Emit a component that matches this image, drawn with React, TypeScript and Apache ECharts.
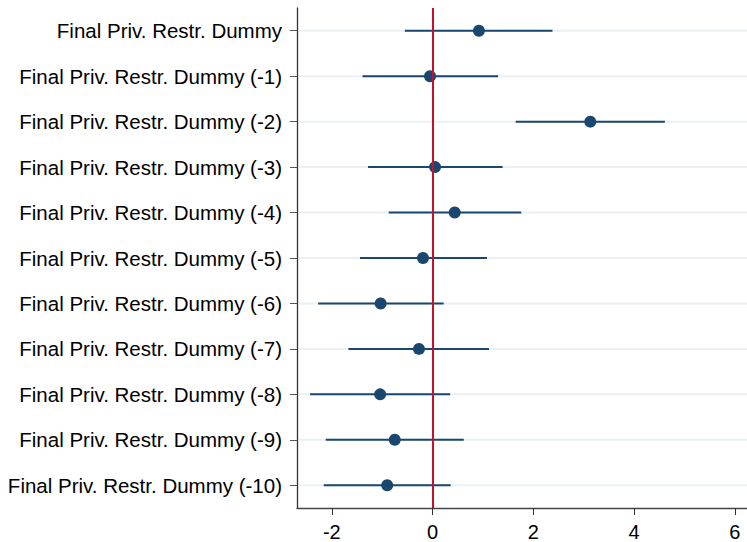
import React, { useEffect, useRef } from "react";
import * as echarts from "echarts";

const categories = [
  "Final Priv. Restr. Dummy",
  "Final Priv. Restr. Dummy (-1)",
  "Final Priv. Restr. Dummy (-2)",
  "Final Priv. Restr. Dummy (-3)",
  "Final Priv. Restr. Dummy (-4)",
  "Final Priv. Restr. Dummy (-5)",
  "Final Priv. Restr. Dummy (-6)",
  "Final Priv. Restr. Dummy (-7)",
  "Final Priv. Restr. Dummy (-8)",
  "Final Priv. Restr. Dummy (-9)",
  "Final Priv. Restr. Dummy (-10)",
];
const estimates = [0.92, -0.05, 3.13, 0.05, 0.44, -0.19, -1.03, -0.27, -1.04, -0.75, -0.9];
const lower = [-0.55, -1.39, 1.65, -1.28, -0.87, -1.44, -2.27, -1.67, -2.43, -2.12, -2.16];
const upper = [2.38, 1.3, 4.61, 1.39, 1.76, 1.08, 0.22, 1.12, 0.35, 0.62, 0.36];
const xTicks = [-2, 0, 2, 4, 6];

const NAVY = "#1a476f";
const FONT = "Liberation Sans, Arial, Helvetica, sans-serif";

export default function App() {
  const ref = useRef<HTMLDivElement>(null);
  useEffect(() => {
    if (!ref.current) return;
    const chart = echarts.init(ref.current, undefined, { renderer: "svg" });
    const ciData = categories.map((c, i) => [lower[i], upper[i], i]);
    const option: any = {
      animation: false,
      backgroundColor: "#ffffff",
      grid: { left: 297, right: 0, top: 8, bottom: 33, containLabel: false },
      xAxis: {
        type: "value",
        min: -2.69,
        max: 6.24,
        axisLine: { show: true, onZero: false, lineStyle: { color: "#444", width: 1.3 } },
        axisTick: { show: true, length: 7, lineStyle: { color: "#333" }, customValues: xTicks },
        axisLabel: { show: true, customValues: xTicks, fontSize: 20, color: "#000", fontFamily: FONT, margin: 14 },
        splitLine: { show: false },
      },
      yAxis: {
        type: "category",
        data: categories,
        inverse: true,
        axisLine: { show: true, onZero: false, lineStyle: { color: "#333", width: 1.3 } },
        axisTick: { show: true, alignWithLabel: true, length: 7, lineStyle: { color: "#555" } },
        axisLabel: { fontSize: 20.5, color: "#000", fontFamily: FONT, margin: 15 },
        splitLine: { show: false },
      },
      series: [
        {
          type: "custom",
          name: "grid",
          silent: true,
          z: 1,
          data: categories.map((c, i) => [0, i]),
          renderItem: (params: any, api: any) => {
            const p = api.coord([0, api.value(1)]);
            const cs = params.coordSys;
            return {
              type: "line",
              shape: { x1: cs.x + 2, y1: p[1], x2: cs.x + cs.width, y2: p[1] },
              style: { stroke: "#eaf0f3", lineWidth: 2 },
            };
          },
        },
        {
          type: "scatter",
          name: "zero",
          silent: true,
          z: 2,
          data: [],
          markLine: {
            silent: true,
            symbol: "none",
            label: { show: false },
            lineStyle: { color: "#c8102e", width: 2, type: "solid" },
            data: [{ xAxis: 0 }],
          },
        },
        {
          type: "custom",
          name: "ci",
          z: 3,
          data: ciData,
          renderItem: (params: any, api: any) => {
            const a = api.coord([api.value(0), api.value(2)]);
            const b = api.coord([api.value(1), api.value(2)]);
            return {
              type: "line",
              shape: { x1: a[0], y1: a[1], x2: b[0], y2: b[1] },
              style: { stroke: NAVY, lineWidth: 2 },
            };
          },
        },
        {
          type: "scatter",
          name: "est",
          z: 4,
          symbol: "circle",
          symbolSize: 12,
          itemStyle: { color: NAVY, opacity: 1 },
          data: estimates.map((v, i) => [v, i]),
        },
      ],
    };
    chart.setOption(option);
    return () => chart.dispose();
  }, []);
  return (
    <div
      ref={ref}
      style={{ position: "fixed", left: 0, top: 0, width: 747, height: 542, background: "#fff" }}
    />
  );
}
